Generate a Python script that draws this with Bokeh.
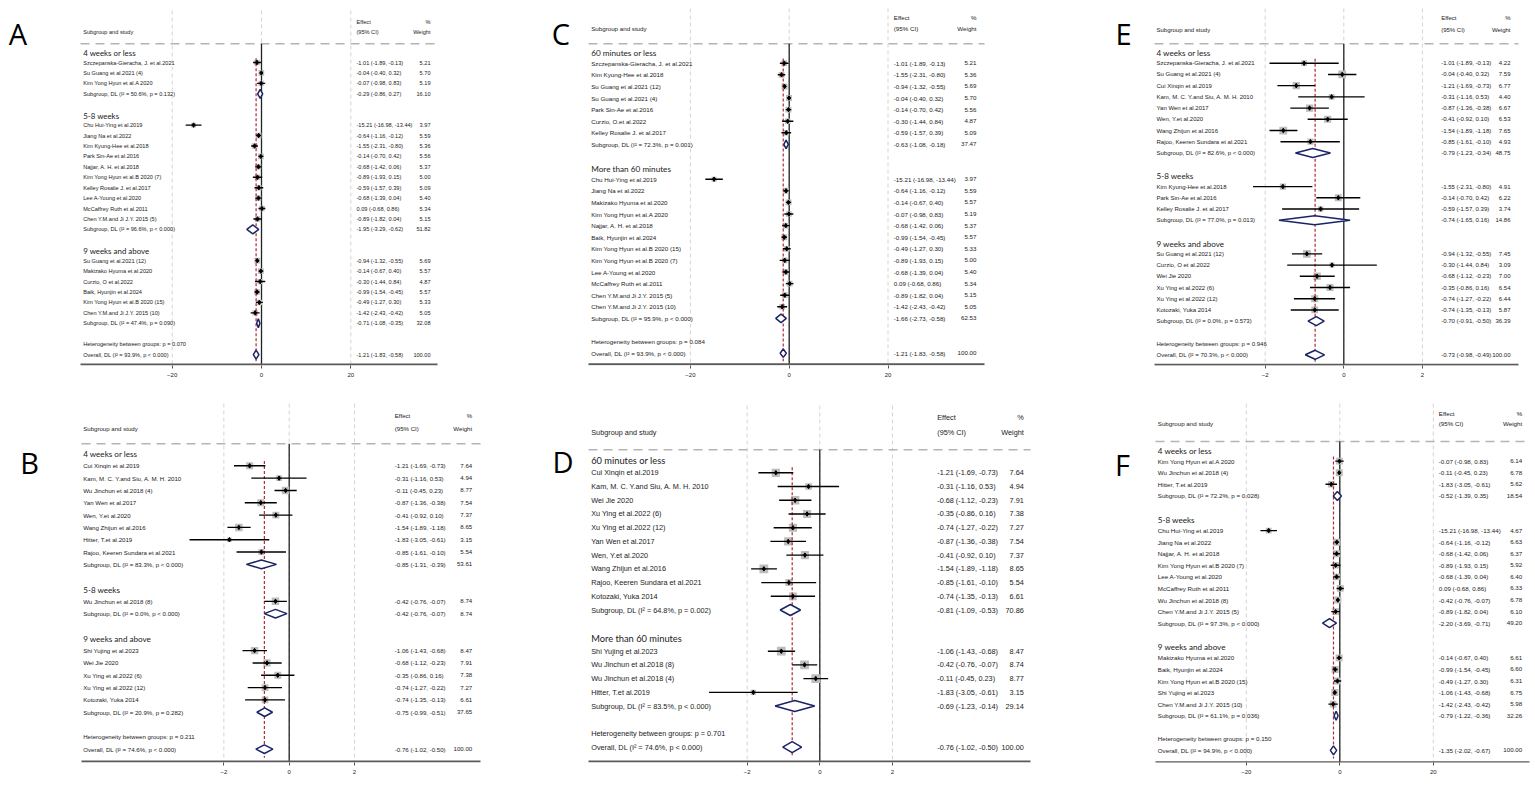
from bokeh.plotting import figure
from bokeh.layouts import row, column
from bokeh.models import Range1d, FixedTicker, ColumnDataSource
from bokeh.core.properties import value
from bokeh.embed import file_html
from bokeh.resources import INLINE

# ---------------- Panel A ----------------
A_groups = ["4 weeks or less", "5-8 weeks", "9 weeks and above"]
A_grp = [0, 0, 0, 1, 1, 1, 1, 1, 1, 1, 1, 1, 1, 2, 2, 2, 2, 2, 2]
A_study = ["Szczepanska-Gieracha, J. et al.2021", "Su Guang et al.2021 (4)", "Kim Yong Hyun et al.A 2020",
           "Chu Hui-Ying et al.2019", "Jiang Na et al.2022", "Kim Kyung-Hee et al.2018", "Park Sin-Ae et al.2016",
           "Najjar, A. H. et al.2018", "Kim Yong Hyun et al.B 2020 (7)", "Kelley Rosalie J. et al.2017",
           "Lee A-Young et al.2020", "McCaffrey Ruth et al.2011", "Chen Y.M.and Ji J.Y. 2015 (5)",
           "Su Guang et al.2021 (12)", "Makizako Hyuma et al.2020", "Curzio, O et al.2022", "Baik, Hyunjin et al.2024",
           "Kim Yong Hyun et al.B 2020 (15)", "Chen Y.M.and Ji J.Y. 2015 (10)"]
A_es = [-1.01, -0.04, -0.07, -15.21, -0.64, -1.55, -0.14, -0.68, -0.89, -0.59, -0.68, 0.09, -0.89,
        -0.94, -0.14, -0.30, -0.99, -0.49, -1.42]
A_lo = [-1.89, -0.40, -0.98, -16.98, -1.16, -2.31, -0.70, -1.42, -1.93, -1.57, -1.39, -0.68, -1.82,
        -1.32, -0.67, -1.44, -1.54, -1.27, -2.43]
A_hi = [-0.13, 0.32, 0.83, -13.44, -0.12, -0.80, 0.42, 0.06, 0.15, 0.39, 0.04, 0.86, 0.04,
        -0.55, 0.40, 0.84, -0.45, 0.30, -0.42]
A_wt = [5.21, 5.70, 5.19, 3.97, 5.59, 5.36, 5.56, 5.37, 5.00, 5.09, 5.40, 5.34, 5.15,
        5.69, 5.57, 4.87, 5.57, 5.33, 5.05]
A_sub_es = [-0.29, -1.95, -0.71]
A_sub_lo = [-0.86, -3.29, -1.08]
A_sub_hi = [0.27, -0.62, -0.35]
A_sub_wt = [16.10, 51.82, 32.08]
A_sub_i2 = ["50.6%", "96.6%", "47.4%"]
A_sub_p = ["p = 0.132", "p < 0.000", "p = 0.090"]
A_het_p = "p = 0.070"
A_overall = [-1.21, -1.83, -0.58]
A_overall_i2 = "93.9%"

# ---------------- Panel C ----------------
C_groups = ["60 minutes or less", "More than 60 minutes"]
C_grp = [0] * 7 + [1] * 12
C_study = ["Szczepanska-Gieracha, J. et al.2021", "Kim Kyung-Hee et al.2018", "Su Guang et al.2021 (12)",
           "Su Guang et al.2021 (4)", "Park Sin-Ae et al.2016", "Curzio, O.et al.2022", "Kelley Rosalie J. et al.2017",
           "Chu Hui-Ying et al.2019", "Jiang Na et al.2022", "Makizako Hyuma et al.2020", "Kim Yong Hyun et al.A 2020",
           "Najjar, A. H. et al.2018", "Baik, Hyunjin et al.2024", "Kim Yong Hyun et al.B 2020 (15)",
           "Kim Yong Hyun et al.B 2020 (7)", "Lee A-Young et al.2020", "McCaffrey Ruth et al.2011",
           "Chen Y.M.and Ji J.Y. 2015 (5)", "Chen Y.M.and Ji J.Y. 2015 (10)"]
C_es = [-1.01, -1.55, -0.94, -0.04, -0.14, -0.30, -0.59,
        -15.21, -0.64, -0.14, -0.07, -0.68, -0.99, -0.49, -0.89, -0.68, 0.09, -0.89, -1.42]
C_lo = [-1.89, -2.31, -1.32, -0.40, -0.70, -1.44, -1.57,
        -16.98, -1.16, -0.67, -0.98, -1.42, -1.54, -1.27, -1.93, -1.39, -0.68, -1.82, -2.43]
C_hi = [-0.13, -0.80, -0.55, 0.32, 0.42, 0.84, 0.39,
        -13.44, -0.12, 0.40, 0.83, 0.06, -0.45, 0.30, 0.15, 0.04, 0.86, 0.04, -0.42]
C_wt = [5.21, 5.36, 5.69, 5.70, 5.56, 4.87, 5.09,
        3.97, 5.59, 5.57, 5.19, 5.37, 5.57, 5.33, 5.00, 5.40, 5.34, 5.15, 5.05]
C_sub_es = [-0.63, -1.66]
C_sub_lo = [-1.08, -2.73]
C_sub_hi = [-0.18, -0.58]
C_sub_wt = [37.47, 62.53]
C_sub_i2 = ["72.3%", "95.9%"]
C_sub_p = ["p = 0.001", "p < 0.000"]
C_het_p = "p = 0.084"
C_overall = [-1.21, -1.83, -0.58]
C_overall_i2 = "93.9%"

# ---------------- Panel E ----------------
E_groups = ["4 weeks or less", "5-8 weeks", "9 weeks and above"]
E_grp = [0] * 8 + [1] * 3 + [2] * 6
E_study = ["Szczepanska-Gieracha, J. et al.2021", "Su Guang et al.2021 (4)", "Cui Xinqin et al.2019",
           "Kam, M. C. Y.and Siu, A. M. H. 2010", "Yan Wen et al.2017", "Wen, Y.et al.2020",
           "Wang Zhijun et al.2016", "Rajoo, Keeren Sundara et al.2021",
           "Kim Kyung-Hee et al.2018", "Park Sin-Ae et al.2016", "Kelley Rosalie J. et al.2017",
           "Su Guang et al.2021 (12)", "Curzio, O et al.2022", "Wei Jie 2020", "Xu Ying et al.2022 (6)",
           "Xu Ying et al.2022 (12)", "Kotozaki, Yuka 2014"]
E_es = [-1.01, -0.04, -1.21, -0.31, -0.87, -0.41, -1.54, -0.85, -1.55, -0.14, -0.59,
        -0.94, -0.30, -0.68, -0.35, -0.74, -0.74]
E_lo = [-1.89, -0.40, -1.69, -1.16, -1.36, -0.92, -1.89, -1.61, -2.31, -0.70, -1.57,
        -1.32, -1.44, -1.12, -0.86, -1.27, -1.35]
E_hi = [-0.13, 0.32, -0.73, 0.53, -0.38, 0.10, -1.18, -0.10, -0.80, 0.42, 0.39,
        -0.55, 0.84, -0.23, 0.16, -0.22, -0.13]
E_wt = [4.22, 7.59, 6.77, 4.40, 6.67, 6.53, 7.65, 4.93, 4.91, 6.22, 3.74,
        7.45, 3.09, 7.00, 6.54, 6.44, 5.87]
E_sub_es = [-0.79, -0.74, -0.70]
E_sub_lo = [-1.23, -1.65, -0.91]
E_sub_hi = [-0.34, 0.16, -0.50]
E_sub_wt = [48.75, 14.86, 36.39]
E_sub_i2 = ["82.6%", "77.0%", "0.0%"]
E_sub_p = ["p < 0.000", "p = 0.013", "p = 0.573"]
E_het_p = "p = 0.946"
E_overall = [-0.73, -0.98, -0.49]
E_overall_i2 = "70.3%"

# ---------------- Panel B ----------------
B_groups = ["4 weeks or less", "5-8 weeks", "9 weeks and above"]
B_grp = [0] * 8 + [1] + [2] * 5
B_study = ["Cui Xinqin et al.2019", "Kam, M. C. Y.and Siu, A. M. H. 2010", "Wu Jinchun et al.2018 (4)",
           "Yan Wen et al.2017", "Wen, Y.et al.2020", "Wang Zhijun et al.2016", "Hitter, T.et al.2019",
           "Rajoo, Keeren Sundara et al.2021", "Wu Jinchun et al.2018 (8)",
           "Shi Yujing et al.2023", "Wei Jie 2020", "Xu Ying et al.2022 (6)", "Xu Ying et al.2022 (12)",
           "Kotozaki, Yuka 2014"]
B_es = [-1.21, -0.31, -0.11, -0.87, -0.41, -1.54, -1.83, -0.85, -0.42, -1.06, -0.68, -0.35, -0.74, -0.74]
B_lo = [-1.69, -1.16, -0.45, -1.36, -0.92, -1.89, -3.05, -1.61, -0.76, -1.43, -1.12, -0.86, -1.27, -1.35]
B_hi = [-0.73, 0.53, 0.23, -0.38, 0.10, -1.18, -0.61, -0.10, -0.07, -0.68, -0.23, 0.16, -0.22, -0.13]
B_wt = [7.64, 4.94, 8.77, 7.54, 7.37, 8.65, 3.15, 5.54, 8.74, 8.47, 7.91, 7.38, 7.27, 6.61]
B_sub_es = [-0.85, -0.42, -0.75]
B_sub_lo = [-1.31, -0.76, -0.99]
B_sub_hi = [-0.39, -0.07, -0.51]
B_sub_wt = [53.61, 8.74, 37.65]
B_sub_i2 = ["83.3%", "0.0%", "20.9%"]
B_sub_p = ["p < 0.000", "p < 0.000", "p = 0.282"]
B_het_p = "p = 0.211"
B_overall = [-0.76, -1.02, -0.50]
B_overall_i2 = "74.6%"

# ---------------- Panel D ----------------
D_groups = ["60 minutes or less", "More than 60 minutes"]
D_grp = [0] * 10 + [1] * 4
D_study = ["Cui Xinqin et al.2019", "Kam, M. C. Y.and Siu, A. M. H. 2010", "Wei Jie 2020",
           "Xu Ying et al.2022 (6)", "Xu Ying et al.2022 (12)", "Yan Wen et al.2017", "Wen, Y.et al.2020",
           "Wang Zhijun et al.2016", "Rajoo, Keeren Sundara et al.2021", "Kotozaki, Yuka 2014",
           "Shi Yujing et al.2023", "Wu Jinchun et al.2018 (8)", "Wu Jinchun et al.2018 (4)", "Hitter, T.et al.2019"]
D_es = [-1.21, -0.31, -0.68, -0.35, -0.74, -0.87, -0.41, -1.54, -0.85, -0.74, -1.06, -0.42, -0.11, -1.83]
D_lo = [-1.69, -1.16, -1.12, -0.86, -1.27, -1.36, -0.92, -1.89, -1.61, -1.35, -1.43, -0.76, -0.45, -3.05]
D_hi = [-0.73, 0.53, -0.23, 0.16, -0.22, -0.38, 0.10, -1.18, -0.10, -0.13, -0.68, -0.07, 0.23, -0.61]
D_wt = [7.64, 4.94, 7.91, 7.38, 7.27, 7.54, 7.37, 8.65, 5.54, 6.61, 8.47, 8.74, 8.77, 3.15]
D_sub_es = [-0.81, -0.69]
D_sub_lo = [-1.09, -1.23]
D_sub_hi = [-0.53, -0.14]
D_sub_wt = [70.86, 29.14]
D_sub_i2 = ["64.8%", "83.5%"]
D_sub_p = ["p = 0.002", "p < 0.000"]
D_het_p = "p = 0.701"
D_overall = [-0.76, -1.02, -0.50]
D_overall_i2 = "74.6%"

# ---------------- Panel F ----------------
F_groups = ["4 weeks or less", "5-8 weeks", "9 weeks and above"]
F_grp = [0] * 3 + [1] * 8 + [2] * 5
F_study = ["Kim Yong Hyun et al.A 2020", "Wu Jinchun et al.2018 (4)", "Hitter, T.et al.2019",
           "Chu Hui-Ying et al.2019", "Jiang Na et al.2022", "Najjar, A. H. et al.2018",
           "Kim Yong Hyun et al.B 2020 (7)", "Lee A-Young et al.2020", "McCaffrey Ruth et al.2011",
           "Wu Jinchun et al.2018 (8)", "Chen Y.M.and Ji J.Y. 2015 (5)",
           "Makizako Hyuma et al.2020", "Baik, Hyunjin et al.2024", "Kim Yong Hyun et al.B 2020 (15)",
           "Shi Yujing et al.2023", "Chen Y.M.and Ji J.Y. 2015 (10)"]
F_es = [-0.07, -0.11, -1.83, -15.21, -0.64, -0.68, -0.89, -0.68, 0.09, -0.42, -0.89,
        -0.14, -0.99, -0.49, -1.06, -1.42]
F_lo = [-0.98, -0.45, -3.05, -16.98, -1.16, -1.42, -1.93, -1.39, -0.68, -0.76, -1.82,
        -0.67, -1.54, -1.27, -1.43, -2.43]
F_hi = [0.83, 0.23, -0.61, -13.44, -0.12, 0.06, 0.15, 0.04, 0.86, -0.07, 0.04,
        0.40, -0.45, 0.30, -0.68, -0.42]
F_wt = [6.14, 6.78, 5.62, 4.67, 6.63, 6.37, 5.92, 6.40, 6.33, 6.78, 6.10,
        6.61, 6.60, 6.31, 6.75, 5.98]
F_sub_es = [-0.52, -2.20, -0.79]
F_sub_lo = [-1.39, -3.69, -1.22]
F_sub_hi = [0.35, -0.71, -0.36]
F_sub_wt = [18.54, 49.20, 32.26]
F_sub_i2 = ["72.2%", "97.3%", "61.1%"]
F_sub_p = ["p = 0.028", "p < 0.000", "p = 0.036"]
F_het_p = "p = 0.150"
F_overall = [-1.35, -2.02, -0.67]
F_overall_i2 = "94.9%"

TICKS_WIDE = [-20, 0, 20]
TICKS_NARROW = [-2, 0, 2]

# ---------------- layout (reference pixel geometry) ----------------
TOP = dict(top=0, height=392, fbot=365)
BOT = dict(top=392, height=399, fbot=762)

CFG = {
    "A": dict(TOP, left=0, right=515, axis_y=364, ax0=80, ax1=437, zero=261, scale=4.465, ticks=TICKS_WIDE,
              y0=51.6, step=10.43, hline=43.3, gtop=10, name_x=82.7, eff_x=356, wt_x=430, eff_y=21, ci_y=31,
              fs=5.6, gfs=7.9, lx=17.5, ly=33, k=2.4, dh=4.5),
    "C": dict(TOP, left=515, right=1100, axis_y=363.7, ax0=588, ax1=984, zero=788.7, scale=4.94, ticks=TICKS_WIDE,
              y0=51.1, step=11.6, hline=43.3, gtop=8, name_x=590.7, eff_x=893.3, wt_x=976, eff_y=16.7, ci_y=28.3,
              fs=6.2, gfs=8.2, lx=560.5, ly=33, k=2.5, dh=4.2),
    "E": dict(TOP, left=1100, right=1535, axis_y=364.3, ax0=1154, ax1=1518, zero=1343.3, scale=39.3,
              ticks=TICKS_NARROW, y0=51.5, step=11.215, hline=43.3, gtop=8, name_x=1156, eff_x=1440.7, wt_x=1510,
              eff_y=17.3, ci_y=29, fs=6.0, gfs=8.1, lx=1123, ly=32.7, k=2.8, dh=4.5),
    "B": dict(BOT, left=0, right=515, axis_y=761, ax0=81, ax1=480, zero=288.7, scale=32.67, ticks=TICKS_NARROW,
              y0=453, step=12.32, hline=443.3, gtop=403, name_x=82.7, eff_x=394.3, wt_x=471.7, eff_y=415,
              ci_y=427.7, fs=6.1, gfs=8.1, lx=29, ly=462, k=2.55, dh=4.3),
    "D": dict(BOT, left=515, right=1100, axis_y=761, ax0=588, ax1=1030, zero=819.3, scale=36.33,
              ticks=TICKS_NARROW, y0=458.6, step=13.72, hline=449.3, gtop=405, name_x=590.7, eff_x=936.7,
              wt_x=1023.3, eff_y=416.7, ci_y=431.7, fs=7.3, gfs=9.3, lx=562.5, ly=461, k=3.0, dh=5.5),
    "F": dict(BOT, left=1100, right=1535, axis_y=761.7, ax0=1155, ax1=1529, zero=1339.3, scale=4.675,
              ticks=TICKS_WIDE, y0=449.1, step=11.57, hline=441, gtop=403, name_x=1157.3, eff_x=1438.3,
              wt_x=1521.7, eff_y=413.3, ci_y=422.7, fs=6.2, gfs=8.1, lx=1122, ly=464, k=2.7, dh=4.5),
}

TXT = "Liberation Sans"
HDR = "Lato"
TXT_COL = "#1a1a1a"


def fmt_ci(e, l, h):
    return "%.2f (%.2f, %.2f)" % (e, l, h)


def panel(letter, groups, grp, study, es, lo, hi, wt, s_es, s_lo, s_hi, s_wt, s_i2, s_p, het_p, ov, ov_i2):
    c = CFG[letter]
    X = lambda px: (px - c["zero"]) / c["scale"]
    Y = lambda py: (py - c["y0"]) / c["step"]
    L, R, T, H, FB = c["left"], c["right"], c["top"], c["height"], c["fbot"]
    p = figure(width=R - L, height=H, x_range=Range1d(X(L), X(R)), y_range=Range1d(Y(FB), Y(T)),
               output_backend="svg", toolbar_location=None, y_axis_location=None,
               min_border_left=0, min_border_right=0, min_border_top=0, min_border_bottom=T + H - FB)
    p.outline_line_color = None
    p.xgrid.visible = False
    p.ygrid.visible = False
    p.background_fill_color = "white"
    p.border_fill_color = "white"
    ax = p.xaxis[0]
    ax.ticker = FixedTicker(ticks=c["ticks"])
    ax.axis_line_color = None
    ax.major_tick_line_color = "#555555"
    ax.major_tick_out = 3
    ax.major_tick_in = 0
    ax.minor_tick_line_color = None
    ax.major_label_text_font = TXT
    ax.major_label_text_font_size = "6px"
    ax.major_label_text_color = "#222222"
    ax.major_label_standoff = 4

    # build row indices
    r = 0
    hdr_rows, st_rows, sub_rows = [], [], []
    for gi in range(len(groups)):
        hdr_rows.append(r)
        r += 1
        for si in range(len(study)):
            if grp[si] == gi:
                st_rows.append(r)
                r += 1
        sub_rows.append(r)
        r += 2
    het_row = r
    ov_row = r + 1

    y_axis = Y(c["axis_y"])
    y_hline = Y(c["hline"])
    # light vertical reference lines at ticks
    p.segment(x0=c["ticks"], x1=c["ticks"], y0=[Y(c["gtop"])] * 3, y1=[y_axis] * 3,
              line_color="#d4d4d4", line_dash="4 3", line_width=1)
    # header dashed line
    p.segment(x0=[X(c["ax0"])], x1=[X(c["ax1"])], y0=[y_hline], y1=[y_hline],
              line_color="#b5b5b5", line_dash="9 6", line_width=1.6)
    # null line
    p.segment(x0=[0], x1=[0], y0=[y_hline], y1=[y_axis], line_color="#222222", line_width=1.3)

    # study squares
    src = ColumnDataSource(dict(y=st_rows, es=es, lo=lo, hi=hi, sz=[c["k"] * w ** 0.5 for w in wt]))
    p.scatter(x="es", y="y", size="sz", marker="square", source=src, fill_color="#bdbdbd", line_color=None)
    # overall red dashed line
    p.segment(x0=[ov[0]], x1=[ov[0]], y0=[0.6], y1=[ov_row + 0.7], line_color="#b0283a",
              line_dash="3 2", line_width=1.2)
    p.segment(x0="lo", x1="hi", y0="y", y1="y", source=src, line_color="black", line_width=1.4)
    p.scatter(x="es", y="y", size=4.5, marker="diamond", source=src, fill_color="black", line_color="black")

    # diamonds
    dh = c["dh"] / c["step"]
    d_rows = sub_rows + [ov_row]
    d_es = list(s_es) + [ov[0]]
    d_lo = list(s_lo) + [ov[1]]
    d_hi = list(s_hi) + [ov[2]]
    xs = [[d_lo[i], d_es[i], d_hi[i], d_es[i]] for i in range(len(d_rows))]
    ys = [[d_rows[i], d_rows[i] - dh, d_rows[i], d_rows[i] + dh] for i in range(len(d_rows))]
    p.patches(xs=xs, ys=ys, fill_color="white", line_color="#1b2466", line_width=1.5)

    # axis line
    p.segment(x0=[X(c["ax0"])], x1=[X(c["ax1"])], y0=[y_axis], y1=[y_axis], line_color="#5a5a5a", line_width=2)

    # texts
    names = list(study) + ["Subgroup, DL (I\u00b2 = %s, %s)" % (s_i2[i], s_p[i]) for i in range(len(groups))] + \
        ["Heterogeneity between groups: %s" % het_p, "Overall, DL (I\u00b2 = %s, p < 0.000)" % ov_i2]
    nrows = st_rows + sub_rows + [het_row, ov_row]
    effs = [fmt_ci(es[i], lo[i], hi[i]) for i in range(len(study))] + \
        [fmt_ci(s_es[i], s_lo[i], s_hi[i]) for i in range(len(groups))] + [fmt_ci(*ov)]
    erows = st_rows + sub_rows + [ov_row]
    wts = ["%.2f" % w for w in wt] + ["%.2f" % w for w in s_wt] + ["100.00"]
    fs = value("%.1fpx" % c["fs"])
    p.text(x=[X(c["name_x"])] * len(names), y=nrows, text=names, text_font=value(TXT), text_font_size=fs,
           text_color=TXT_COL, text_baseline="middle", text_align="left")
    p.text(x=[X(c["eff_x"])] * len(effs), y=erows, text=effs, text_font=value(TXT), text_font_size=fs,
           text_color=TXT_COL, text_baseline="middle", text_align="left")
    p.text(x=[X(c["wt_x"])] * len(wts), y=erows, text=wts, text_font=value(TXT), text_font_size=fs,
           text_color=TXT_COL, text_baseline="middle", text_align="right")
    # group headers
    p.text(x=[X(c["name_x"])] * len(groups), y=[h + 0.08 for h in hdr_rows], text=groups, text_font=value(HDR),
           text_font_size=value("%.1fpx" % c["gfs"]), text_color=TXT_COL, text_baseline="middle",
           text_align="left")
    # column headings
    ye, yc = Y(c["eff_y"]), Y(c["ci_y"])
    p.text(x=[X(c["name_x"]), X(c["eff_x"]), X(c["eff_x"])], y=[yc, ye, yc],
           text=["Subgroup and study", "Effect", "(95% CI)"], text_font=value(TXT), text_font_size=fs,
           text_color=TXT_COL, text_baseline="middle", text_align="left")
    p.text(x=[X(c["wt_x"]), X(c["wt_x"])], y=[ye, yc], text=["%", "Weight"], text_font=value(TXT),
           text_font_size=fs, text_color=TXT_COL, text_baseline="middle", text_align="right")
    # panel letter
    p.text(x=[X(c["lx"])], y=[Y(c["ly"])], text=[letter], text_font=value("Open Sans"),
           text_font_size=value("29px"), text_color="black", text_baseline="alphabetic", text_align="center")
    return p


pA = panel("A", A_groups, A_grp, A_study, A_es, A_lo, A_hi, A_wt, A_sub_es, A_sub_lo, A_sub_hi, A_sub_wt,
           A_sub_i2, A_sub_p, A_het_p, A_overall, A_overall_i2)
pC = panel("C", C_groups, C_grp, C_study, C_es, C_lo, C_hi, C_wt, C_sub_es, C_sub_lo, C_sub_hi, C_sub_wt,
           C_sub_i2, C_sub_p, C_het_p, C_overall, C_overall_i2)
pE = panel("E", E_groups, E_grp, E_study, E_es, E_lo, E_hi, E_wt, E_sub_es, E_sub_lo, E_sub_hi, E_sub_wt,
           E_sub_i2, E_sub_p, E_het_p, E_overall, E_overall_i2)
pB = panel("B", B_groups, B_grp, B_study, B_es, B_lo, B_hi, B_wt, B_sub_es, B_sub_lo, B_sub_hi, B_sub_wt,
           B_sub_i2, B_sub_p, B_het_p, B_overall, B_overall_i2)
pD = panel("D", D_groups, D_grp, D_study, D_es, D_lo, D_hi, D_wt, D_sub_es, D_sub_lo, D_sub_hi, D_sub_wt,
           D_sub_i2, D_sub_p, D_het_p, D_overall, D_overall_i2)
pF = panel("F", F_groups, F_grp, F_study, F_es, F_lo, F_hi, F_wt, F_sub_es, F_sub_lo, F_sub_hi, F_sub_wt,
           F_sub_i2, F_sub_p, F_het_p, F_overall, F_overall_i2)

layout = column(row(pA, pC, pE), row(pB, pD, pF))
open("out.html", "w").write(file_html(layout, INLINE))
